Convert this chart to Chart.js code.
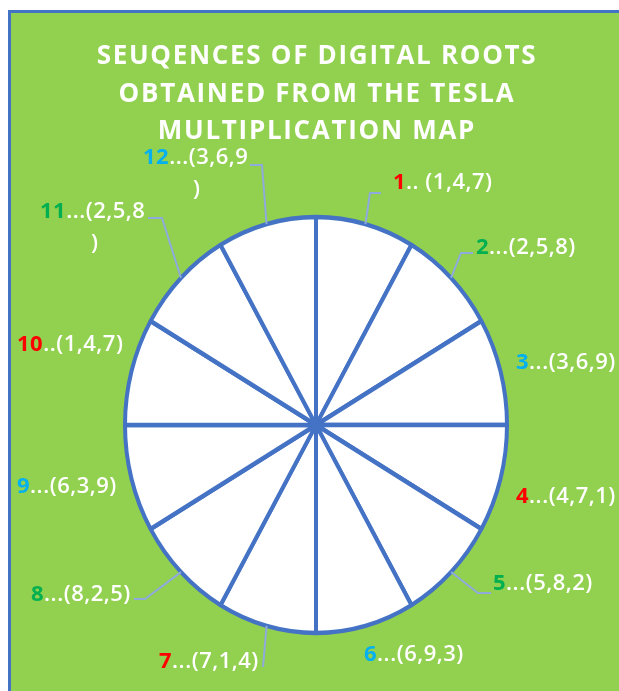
<!DOCTYPE html>
<html>
<head>
<meta charset="utf-8">
<script src="https://cdn.jsdelivr.net/npm/chart.js@4.4.1/dist/chart.umd.min.js"></script>
<style>
  html, body { margin: 0; padding: 0; background: #fff; overflow: hidden; }
  #wrap { position: absolute; left: 0; top: 0; width: 619px; height: 691px; }
</style>
</head>
<body>
<div id="wrap"><canvas id="pie"></canvas></div>
<script>
const titleLines = [
  'SEUQENCES OF DIGITAL ROOTS',
  'OBTAINED FROM THE TESLA',
  'MULTIPLICATION MAP'
];
const sliceNumbers = ['1', '2', '3', '4', '5', '6', '7', '8', '9', '10', '11', '12'];
const sliceValues = [1, 1, 1, 1, 1, 1, 1, 1, 1, 1, 1, 1];
const separators = ['.. ', '...', '...', '...', '...', '...', '...', '...', '...', '..', '...', '...'];
const sequences = ['(1,4,7)', '(2,5,8)', '(3,6,9)', '(4,7,1)', '(5,8,2)', '(6,9,3)',
                   '(7,1,4)', '(8,2,5)', '(6,3,9)', '(1,4,7)', '(2,5,8)', '(3,6,9)'];

const RED = '#FF0000', GREEN = '#00B050', BLUE = '#00B0F0';
const numberColors = [RED, GREEN, BLUE, RED, GREEN, BLUE, RED, GREEN, BLUE, RED, GREEN, BLUE];

// where each label sits (left x, middle y), optional wrap and leader elbow/end
const labelLayout = [
  { x: 393, y: 183, leader: [[370, 193], [381, 193]] },
  { x: 476, y: 248, leader: [[461, 253], [473, 253]] },
  { x: 516, y: 363 },
  { x: 516, y: 497 },
  { x: 493, y: 584, leader: [[478, 593], [491, 593]] },
  { x: 364, y: 655 },
  { x: 159, y: 662, leader: [[263, 667]] },
  { x: 31, y: 595, leader: [[145, 599], [134, 599]] },
  { x: 17, y: 487 },
  { x: 17, y: 345 },
  { x: 40, y: 212, wrap: { x: 91, y: 244 }, leader: [[162, 218], [148, 218]] },
  { x: 143, y: 158, wrap: { x: 193, y: 190 }, leader: [[262, 165], [250, 165]] }
];

const STRETCH_Y = 208 / 191;
const FONT = '"Open Sans", "Noto Sans", sans-serif';

// green panel with blue left/top edge behind the chart
const panelPlugin = {
  id: 'panel',
  beforeDraw(chart) {
    const ctx = chart.ctx;
    ctx.save();
    ctx.fillStyle = '#92D050';
    ctx.fillRect(8, 10, chart.width - 8, chart.height - 10);
    ctx.fillStyle = '#4472C4';
    ctx.fillRect(8, 10, 3, chart.height - 10);
    ctx.fillRect(8, 10, chart.width - 8, 3);
    ctx.restore();
  }
};

const ellipsePlugin = {
  id: 'ellipse',
  beforeDatasetsDraw(chart) {
    const arc = chart.getDatasetMeta(0).data[0];
    const ctx = chart.ctx;
    ctx.save();
    ctx.translate(arc.x, arc.y);
    ctx.scale(1, STRETCH_Y);
    ctx.translate(-arc.x, -arc.y);
  },
  afterDatasetsDraw(chart) {
    chart.ctx.restore();
  }
};

const textPlugin = {
  id: 'texts',
  afterDraw(chart) {
    const ctx = chart.ctx;
    ctx.save();

    // title
    ctx.fillStyle = '#FFFFFF';
    ctx.font = 'bold 26px ' + FONT;
    ctx.letterSpacing = '1.7px';
    ctx.textAlign = 'center';
    ctx.textBaseline = 'alphabetic';
    titleLines.forEach((line, i) => ctx.fillText(line, 317, 64 + i * 37.5));

    // leader lines
    const arcs = chart.getDatasetMeta(0).data;
    ctx.strokeStyle = '#8FAADC';
    ctx.lineWidth = 2;
    arcs.forEach((arc, i) => {
      const lay = labelLayout[i];
      if (!lay.leader) return;
      const mid = (arc.startAngle + arc.endAngle) / 2;
      const ax = arc.x + Math.cos(mid) * arc.outerRadius;
      const ay = arc.y + Math.sin(mid) * arc.outerRadius * STRETCH_Y;
      ctx.beginPath();
      ctx.moveTo(ax, ay);
      lay.leader.forEach(p => ctx.lineTo(p[0], p[1]));
      ctx.stroke();
    });

    // slice labels
    ctx.letterSpacing = '0.5px';
    ctx.textAlign = 'left';
    ctx.textBaseline = 'middle';
    sliceNumbers.forEach((num, i) => {
      const lay = labelLayout[i];
      let x = lay.x;
      ctx.font = 'bold 22px ' + FONT;
      ctx.fillStyle = numberColors[i];
      ctx.fillText(num, x, lay.y);
      x += ctx.measureText(num).width;
      ctx.font = '600 22px ' + FONT;
      ctx.fillStyle = '#FFFFFF';
      const seq = sequences[i];
      if (lay.wrap) {
        ctx.fillText(separators[i] + seq.slice(0, -1), x, lay.y);
        ctx.fillText(seq.slice(-1), lay.wrap.x, lay.wrap.y);
      } else {
        ctx.fillText(separators[i] + seq, x, lay.y);
      }
    });
    ctx.restore();
  }
};

new Chart(document.getElementById('pie'), {
  type: 'pie',
  data: {
    labels: sliceNumbers,
    datasets: [{
      data: sliceValues,
      backgroundColor: '#FFFFFF',
      borderColor: '#4472C4',
      borderWidth: 4
    }]
  },
  options: {
    responsive: true,
    maintainAspectRatio: false,
    animation: false,
    events: [],
    radius: 191,
    layout: { padding: { left: 20, right: 7, top: 170, bottom: 11 } },
    plugins: {
      legend: { display: false },
      tooltip: { enabled: false },
      title: { display: false }
    }
  },
  plugins: [panelPlugin, ellipsePlugin, textPlugin]
});
</script>
</body>
</html>
